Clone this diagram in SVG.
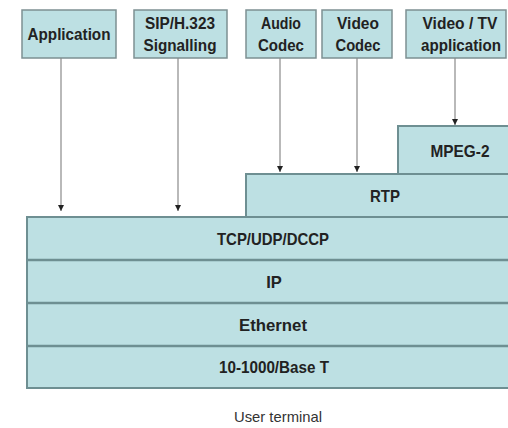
<svg xmlns="http://www.w3.org/2000/svg" width="508" height="428" viewBox="0 0 508 428">
  <style>
    .box { fill: #bde0e3; stroke: #7d9092; stroke-width: 1.5; }
    .layer { fill: #bde0e3; stroke: #6e8f92; stroke-width: 2; }
    .sep { stroke: #6e8f92; stroke-width: 2.5; }
    .lbl { font-family: "Liberation Sans", Arial, sans-serif; font-weight: bold; font-size: 16.5px; fill: #222; text-anchor: middle; }
    .cap { font-family: "Liberation Sans", Arial, sans-serif; font-size: 15px; fill: #333; text-anchor: middle; }
    .conn { stroke: #8a8a8a; stroke-width: 1.2; fill: none; marker-end: url(#arrow); }
  </style>
  <defs>
    <marker id="arrow" viewBox="0 0 6 6" refX="6" refY="3" markerWidth="6" markerHeight="6" markerUnits="userSpaceOnUse" orient="auto">
      <path d="M0,0 L6,3 L0,6 Z" fill="#222"/>
    </marker>
  </defs>
  <rect width="508" height="428" fill="#ffffff"/>

  <!-- protocol stack layers -->
  <g id="stack">
    <rect class="layer" x="27" y="217" width="495" height="171"/>
    <line class="sep" x1="27" y1="260" x2="508" y2="260"/>
    <line class="sep" x1="27" y1="303" x2="508" y2="303"/>
    <line class="sep" x1="27" y1="346" x2="508" y2="346"/>
    <text class="lbl" x="273" y="245" textLength="112" lengthAdjust="spacingAndGlyphs">TCP/UDP/DCCP</text>
    <text class="lbl" x="274" y="288">IP</text>
    <text class="lbl" x="273" y="331" textLength="68" lengthAdjust="spacingAndGlyphs">Ethernet</text>
    <text class="lbl" x="274" y="373" textLength="110" lengthAdjust="spacingAndGlyphs">10-1000/Base T</text>
  </g>
  <g id="rtp">
    <rect class="layer" x="246" y="174" width="276" height="43"/>
    <text class="lbl" x="385" y="202" textLength="30" lengthAdjust="spacingAndGlyphs">RTP</text>
  </g>
  <g id="mpeg2">
    <rect class="layer" x="398" y="126" width="124" height="48"/>
    <text class="lbl" x="460" y="157" textLength="59" lengthAdjust="spacingAndGlyphs">MPEG-2</text>
  </g>

  <!-- top components -->
  <g id="application">
    <rect class="box" x="22" y="10" width="94" height="48"/>
    <text class="lbl" x="69" y="40" textLength="83" lengthAdjust="spacingAndGlyphs">Application</text>
  </g>
  <g id="signalling">
    <rect class="box" x="134" y="10" width="93" height="48"/>
    <text class="lbl" x="180" y="29" textLength="70" lengthAdjust="spacingAndGlyphs">SIP/H.323</text>
    <text class="lbl" x="180" y="51" textLength="73" lengthAdjust="spacingAndGlyphs">Signalling</text>
  </g>
  <g id="audio-codec">
    <rect class="box" x="246" y="10" width="70" height="48"/>
    <text class="lbl" x="281" y="29" textLength="40" lengthAdjust="spacingAndGlyphs">Audio</text>
    <text class="lbl" x="281" y="51" textLength="46" lengthAdjust="spacingAndGlyphs">Codec</text>
  </g>
  <g id="video-codec">
    <rect class="box" x="322" y="10" width="70" height="48"/>
    <text class="lbl" x="358" y="29" textLength="42" lengthAdjust="spacingAndGlyphs">Video</text>
    <text class="lbl" x="358" y="51" textLength="45" lengthAdjust="spacingAndGlyphs">Codec</text>
  </g>
  <g id="tv-application">
    <rect class="box" x="406" y="10" width="100" height="48"/>
    <text class="lbl" x="460" y="29" textLength="75" lengthAdjust="spacingAndGlyphs">Video / TV</text>
    <text class="lbl" x="461" y="51" textLength="80" lengthAdjust="spacingAndGlyphs">application</text>
  </g>

  <!-- connectors -->
  <g id="connectors">
    <line class="conn" x1="61" y1="58" x2="61" y2="211"/>
    <line class="conn" x1="178" y1="58" x2="178" y2="211"/>
    <line class="conn" x1="280" y1="58" x2="280" y2="172"/>
    <line class="conn" x1="357" y1="58" x2="357" y2="172"/>
    <line class="conn" x1="455" y1="58" x2="455" y2="125"/>
  </g>

  <text class="cap" x="278" y="422" textLength="88" lengthAdjust="spacingAndGlyphs">User terminal</text>
</svg>
